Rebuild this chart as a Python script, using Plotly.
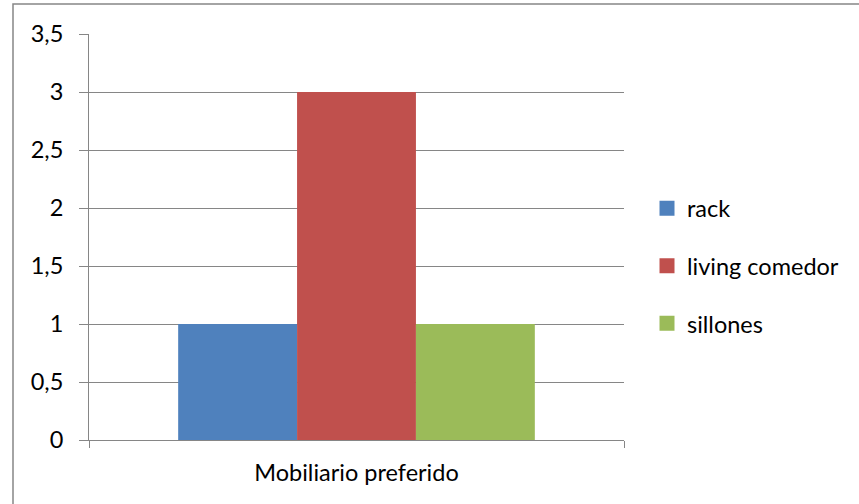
import plotly.graph_objects as go

categories = ["Mobiliario preferido"]
series_names = ["rack", "living comedor", "sillones"]
series_values = [[1], [3], [1]]
series_colors = ["#4F81BD", "#C0504D", "#9BBB59"]

FONT = "Lato"
FONT_SIZE = 23.5
GRID = "#868686"

fig = go.Figure()
for i, (name, vals, col) in enumerate(zip(series_names, series_values, series_colors)):
    fig.add_trace(go.Bar(
        x=categories, y=vals, name=name,
        marker=dict(color=col, line=dict(width=0)),
        showlegend=False,
    ))
    # legend entry with a larger square swatch
    fig.add_trace(go.Scatter(
        x=[None], y=[None], name=name, mode="markers",
        marker=dict(symbol="square", size=15, color=col),
        legendgroup=f"g{i}", showlegend=True,
    ))

fig.update_layout(
    width=859, height=504,
    margin=dict(l=89, r=235, t=34, b=64, autoexpand=False),
    paper_bgcolor="white", plot_bgcolor="white",
    separators=", ",
    barmode="group", bargap=1/3, bargroupgap=0,
    font=dict(family=FONT, size=FONT_SIZE, color="black"),
    showlegend=True,
    legend=dict(
        x=1.043, xanchor="left", y=0.4286, yanchor="middle",
        traceorder="grouped", tracegroupgap=24,
        font=dict(family=FONT, size=FONT_SIZE, color="black"),
        itemwidth=30, bgcolor="rgba(0,0,0,0)",
    ),
    xaxis=dict(
        showgrid=False, showline=True, linecolor=GRID, linewidth=1,
        ticks="outside", tickson="boundaries", ticklen=7, tickcolor=GRID,
        ticklabelstandoff=12,
    ),
    yaxis=dict(
        range=[0, 3.5], dtick=0.5, tick0=0,
        showgrid=True, gridcolor=GRID, gridwidth=1,
        showline=True, linecolor=GRID, linewidth=1,
        ticks="outside", ticklen=9, tickcolor=GRID,
        zeroline=False, ticklabelstandoff=11,
    ),
    shapes=[dict(
        type="rect", xref="paper", yref="paper",
        x0=(13 - 89) / 535, x1=1.6, y0=-0.5, y1=(440 - 4) / 406,
        line=dict(color="#868686", width=1.5), fillcolor="rgba(0,0,0,0)",
        layer="below",
    )],
)

fig.write_html("out.html")
